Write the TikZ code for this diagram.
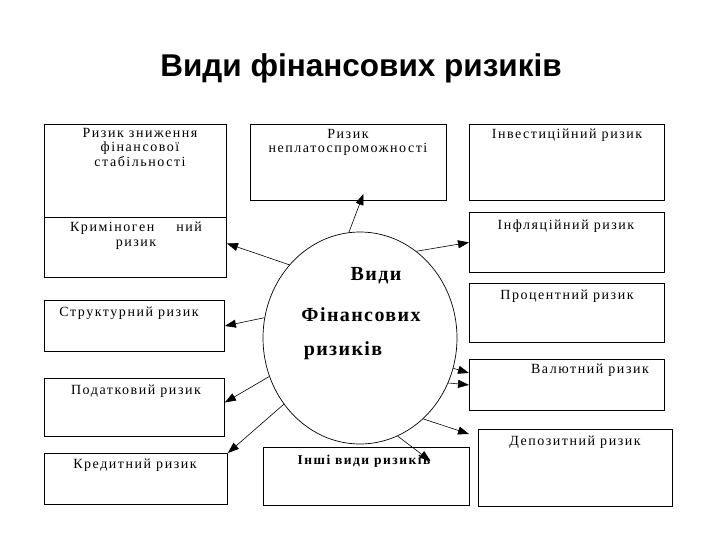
\documentclass[tikz,border=0pt]{standalone}
\usepackage{fontspec}
\setmainfont{Liberation Serif}
\newfontfamily\titlefont{Liberation Sans}
\newfontfamily\boxfnt[LetterSpace=11]{Liberation Serif}
\newfontfamily\circfnt[LetterSpace=7]{Liberation Serif}
\usetikzlibrary{shapes.geometric,arrows.meta}
\tikzset{
  bx/.style={draw, line width=0.9bp, inner sep=0pt, anchor=north west},
  lbl/.style={anchor=north, inner sep=0pt, align=center, font=\boxfnt\fontsize{14bp}{14.5bp}\selectfont},
  ctext/.style={inner sep=0pt, font=\circfnt\bfseries\fontsize{20bp}{22bp}\selectfont},
  arr/.style={-{Triangle[length=11bp,width=8bp]}, line width=0.6bp},
}
\begin{document}
\begin{tikzpicture}[x=1bp,y=-1bp]
\useasboundingbox[fill=white] (0,0) rectangle (720,540);
% title
\node[font=\titlefont\bfseries\fontsize{31.5bp}{34bp}\selectfont, inner sep=0pt] (title) at (361,68) {Види фінансових ризиків};
% boxes
\node[bx, minimum width=182bp, minimum height=93bp] (l1) at (44,124) {};
\node[bx, minimum width=182bp, minimum height=60bp] (l2) at (44,217) {};
\node[bx, minimum width=180bp, minimum height=51bp] (l3) at (44,300) {};
\node[bx, minimum width=180bp, minimum height=58bp] (l4) at (44,378) {};
\node[bx, minimum width=183bp, minimum height=51bp] (l5) at (44,453) {};
\node[bx, minimum width=196bp, minimum height=76bp] (n) at (250,124) {};
\node[bx, minimum width=195bp, minimum height=76bp] (r1) at (469,124) {};
\node[bx, minimum width=195bp, minimum height=60bp] (r2) at (469,212) {};
\node[bx, minimum width=195bp, minimum height=59bp] (r3) at (469,283) {};
\node[bx, minimum width=195bp, minimum height=51bp] (r4) at (469,359) {};
\node[bx, minimum width=194bp, minimum height=77bp] (r5) at (478,429) {};
\node[bx, minimum width=206bp, minimum height=58bp] (m) at (263,447) {};
% labels
\node[lbl] (t1) at (140,128) {Ризик зниження\\фінансової\\стабільності};
\node[lbl] (t2) at (136,222) {Криміноген\hspace{22bp}ний\\ризик};
\node[lbl] (t3) at (129,307) {Структурний ризик};
\node[lbl] (t4) at (136,385) {Податковий ризик};
\node[lbl] (t5) at (135,459) {Кредитний ризик};
\node[lbl] (tn) at (348,129) {Ризик\\неплатоспроможності};
\node[lbl] (tr1) at (567,129) {Інвестиційний ризик};
\node[lbl] (tr2) at (566,220) {Інфляційний ризик};
\node[lbl] (tr3) at (567,290) {Процентний ризик};
\node[lbl] (tr4) at (590,364) {Валютний ризик};
\node[lbl] (tr5) at (575,436) {Депозитний ризик};
\node[lbl, font=\boxfnt\bfseries\fontsize{13.5bp}{14.5bp}\selectfont] (tm) at (364,455) {Інші види ризиків};
% circle
\node[draw, ellipse, minimum width=194bp, minimum height=212bp, inner sep=0pt, line width=0.7bp] (c) at (360,338) {};
\node[ctext] (c1) at (376,276) {Види};
\node[ctext] (c2) at (361,315) {Фінансових};
\node[ctext] (c3) at (343,351) {ризиків};
% arrows
\draw[arr] (c.96) -- ([xshift=15bp,yshift=7bp]n.south);
\draw[arr] (c.134) -- ([yshift=4bp]l2.east);
\draw[arr] (c.57) -- (r2.west);
\draw[arr] (c.168) -- (l3.east);
\draw[arr] (c.203) -- ([yshift=5bp]l4.east);
\draw[arr] (c.221) -- (l5.north east);
\draw[arr] (c.-18) -- ([yshift=12bp]r4.west);
\draw[arr] (c.-27) -- (r4.west);
\draw[arr] (c.-52) -- ([xshift=-9bp,yshift=-5bp]r5.north west);
\draw[arr] (c.-69) -- ([xshift=64bp,yshift=-14bp]m.north);
\end{tikzpicture}
\end{document}
